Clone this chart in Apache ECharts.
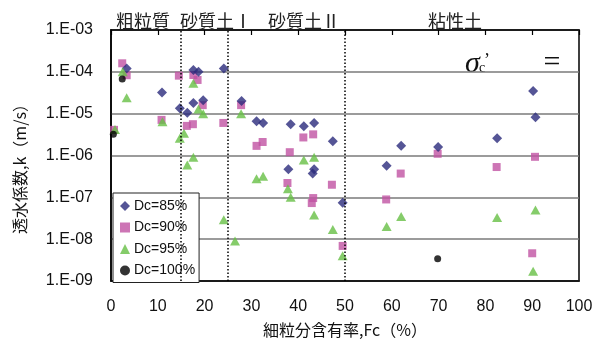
<!DOCTYPE html>
<html>
<head>
<meta charset="utf-8">
<script src="https://cdn.jsdelivr.net/npm/echarts@6/dist/echarts.min.js"></script>
<style>
  html, body { margin: 0; padding: 0; background: #fff; }
  #chart { width: 602px; height: 347px; }
</style>
</head>
<body>
<div id="chart"></div>
<script>
// Permeability k (m/s) against fines content Fc (%), grouped by compaction degree Dc
const seriesNames = ['Dc=85%', 'Dc=90%', 'Dc=95%', 'Dc=100%'];

const fc85 = [3.35, 10.9, 17.6, 18.7, 24.1, 14.7, 16.3, 17.6, 19.7, 27.9, 31.1, 32.5, 38.4, 41.2, 43.4, 47.4, 37.9, 43.4, 43.1, 49.5, 58.9, 62.0, 69.9, 82.5, 90.2, 90.7];
const k85  = [1.2e-4, 3.2e-5, 1.1e-4, 1.0e-4, 1.2e-4, 1.35e-5, 1.05e-5, 1.8e-5, 2.1e-5, 2.0e-5, 6.6e-6, 6.0e-6, 5.6e-6, 5.0e-6, 6.0e-6, 2.2e-6, 4.7e-7, 4.7e-7, 3.7e-7, 7.4e-8, 5.7e-7, 1.7e-6, 1.6e-6, 2.6e-6, 3.5e-5, 8.2e-6];

const fc90 = [2.4, 3.35, 14.5, 17.6, 18.5, 19.6, 27.8, 10.8, 0.64, 16.2, 17.5, 24.0, 32.4, 31.1, 43.2, 41.1, 38.2, 37.7, 47.2, 43.2, 42.9, 49.5, 58.8, 61.9, 69.8, 82.4, 90.6, 90.0];
const k90  = [1.6e-4, 8.3e-5, 8.1e-5, 8.4e-5, 6.4e-5, 1.6e-5, 1.6e-5, 7.1e-6, 4.1e-6, 5.1e-6, 5.6e-6, 6.0e-6, 2.1e-6, 1.7e-6, 3.2e-6, 2.7e-6, 1.2e-6, 2.2e-7, 2.0e-7, 9.6e-8, 7.3e-8, 6.9e-9, 8.9e-8, 3.7e-7, 1.1e-6, 5.3e-7, 9.3e-7, 4.6e-9];

const fc95 = [2.5, 3.35, 17.6, 18.7, 19.7, 27.8, 11.0, 0.85, 15.6, 14.7, 17.6, 16.3, 31.1, 32.5, 41.2, 43.4, 37.8, 38.4, 43.4, 24.1, 26.5, 47.4, 49.5, 62.0, 58.9, 82.5, 90.7, 90.2];
const k95  = [1.0e-4, 2.4e-5, 5.3e-5, 1.3e-5, 1.0e-5, 1.0e-5, 6.4e-6, 4.2e-6, 3.4e-6, 2.6e-6, 9.1e-7, 5.9e-7, 2.8e-7, 3.2e-7, 7.8e-7, 9.1e-7, 1.6e-7, 1.0e-7, 3.8e-8, 2.9e-8, 9.1e-9, 1.7e-8, 4.0e-9, 3.5e-8, 2.0e-8, 3.3e-8, 5.0e-8, 1.7e-9];

const fc100 = [2.4, 0.5, 69.8];
const k100  = [6.7e-5, 3.2e-6, 3.4e-9];

// Soil class boundaries on Fc and the class names above the plot
const zoneBounds = [15, 25, 50];
const zoneNames = ['粗粒質', '砂質土Ⅰ', '砂質土Ⅱ', '粘性土'];

const xTicks = [0, 10, 20, 30, 40, 50, 60, 70, 80, 90, 100];

const pairs = (xs, ys) => xs.map((x, i) => [x, ys[i]]);

const chart = echarts.init(document.getElementById('chart'), null, { renderer: 'canvas' });

const numFont = 'Liberation Sans, Arial, sans-serif';
const jpFont = '"Noto Sans CJK JP", sans-serif';
const serifFont = '"Liberation Serif", "DejaVu Serif", serif';

const option = {
  backgroundColor: '#ffffff',
  animation: false,
  grid: {
    left: 111, right: 23, top: 30, bottom: 66,
    show: true, borderColor: '#000', borderWidth: 1.5, backgroundColor: 'transparent'
  },
  legend: {
    orient: 'vertical',
    left: 113, top: 193,
    data: seriesNames,
    backgroundColor: '#fff',
    borderColor: '#222', borderWidth: 1,
    padding: [6, 4, 5, 7],
    itemWidth: 10, itemHeight: 10, itemGap: 7.5,
    textStyle: { fontFamily: numFont, fontSize: 14, color: '#111', padding: [0, 0, 0, -1] }
  },
  xAxis: [{
    type: 'value', min: xTicks[0], max: xTicks[xTicks.length - 1], interval: 10,
    position: 'bottom',
    axisLine: { show: true, lineStyle: { color: '#000', width: 1.5 } },
    axisTick: { show: false },
    splitLine: { show: false },
    axisLabel: { fontFamily: numFont, fontSize: 16, color: '#111', margin: 18 },
    name: '細粒分含有率,Fc（%）', nameLocation: 'middle', nameGap: 41,
    nameTextStyle: { fontFamily: jpFont, fontSize: 16, color: '#111' }
  }, {
    type: 'value', min: xTicks[0], max: xTicks[xTicks.length - 1], interval: 10,
    position: 'top',
    axisLine: { show: true, lineStyle: { color: '#000', width: 1.5 } },
    axisTick: { show: true, inside: true, length: 5, lineStyle: { color: '#000', width: 1.2 } },
    axisLabel: { show: false },
    splitLine: { show: false }
  }],
  yAxis: {
    type: 'log', logBase: 10, min: 1e-9, max: 1e-3,
    axisLine: { show: true, lineStyle: { color: '#000', width: 1.5 } },
    axisTick: { show: false },
    splitLine: { show: true, lineStyle: { color: '#7a7a7a', width: 1.6 } },
    axisLabel: {
      fontFamily: numFont, fontSize: 16, color: '#111', margin: 18,
      formatter: v => {
        const e = Math.round(Math.log10(v));
        const a = Math.abs(e);
        return '1.E' + (e < 0 ? '-' : '+') + (a < 10 ? '0' + a : a);
      }
    }
  },
  graphic: [
    { type: 'text', x: 143, y: 21, style: { text: zoneNames[0], font: '18px ' + jpFont, fill: '#222', align: 'center', verticalAlign: 'middle' } },
    { type: 'text', x: 216, y: 21, style: { text: zoneNames[1], font: '18px ' + jpFont, fill: '#222', align: 'center', verticalAlign: 'middle' } },
    { type: 'text', x: 304, y: 21, style: { text: zoneNames[2], font: '18px ' + jpFont, fill: '#222', align: 'center', verticalAlign: 'middle' } },
    { type: 'text', x: 455, y: 21, style: { text: zoneNames[3], font: '18px ' + jpFont, fill: '#222', align: 'center', verticalAlign: 'middle' } },
    { type: 'text', x: 20, y: 165, rotation: Math.PI / 2, style: { text: '透水係数,k（m/s）', font: '16px ' + jpFont, fill: '#111', align: 'center', verticalAlign: 'middle' } },
    // effective stress symbol σc'
    { type: 'text', x: 465, y: 64, style: { text: 'σ', font: 'italic 30px ' + serifFont, fill: '#111', align: 'left', verticalAlign: 'middle' } },
    { type: 'text', x: 479, y: 68, style: { text: 'c', font: '14px ' + serifFont, fill: '#111', align: 'left', verticalAlign: 'middle' } },
    { type: 'text', x: 484, y: 61, style: { text: '’', font: '18px ' + serifFont, fill: '#111', align: 'left', verticalAlign: 'middle' } },
    { type: 'text', x: 552, y: 63, style: { text: '=', font: '30px ' + serifFont, fill: '#111', align: 'center', verticalAlign: 'middle' } }
  ],
  series: [
    {
      name: seriesNames[0], type: 'scatter', z: 3, symbol: 'diamond', symbolSize: 10,
      itemStyle: { color: '#2b2b7c' }, data: pairs(fc85, k85),
      markLine: {
        silent: true, symbol: 'none', label: { show: false },
        lineStyle: { type: [1.5, 2], color: '#000', width: 1.5 },
        data: zoneBounds.map(v => ({ xAxis: v }))
      }
    },
    { name: seriesNames[1], type: 'scatter', z: 2, symbol: 'rect', symbolSize: 8, itemStyle: { color: '#c052a3' }, data: pairs(fc90, k90) },
    { name: seriesNames[2], type: 'scatter', z: 4, symbol: 'triangle', symbolSize: [10, 9], itemStyle: { color: '#67bf45' }, data: pairs(fc95, k95) },
    { name: seriesNames[3], type: 'scatter', z: 5, symbol: 'circle', symbolSize: 7, itemStyle: { color: '#000' }, data: pairs(fc100, k100) }
  ]
};

chart.setOption(option);
</script>
</body>
</html>
